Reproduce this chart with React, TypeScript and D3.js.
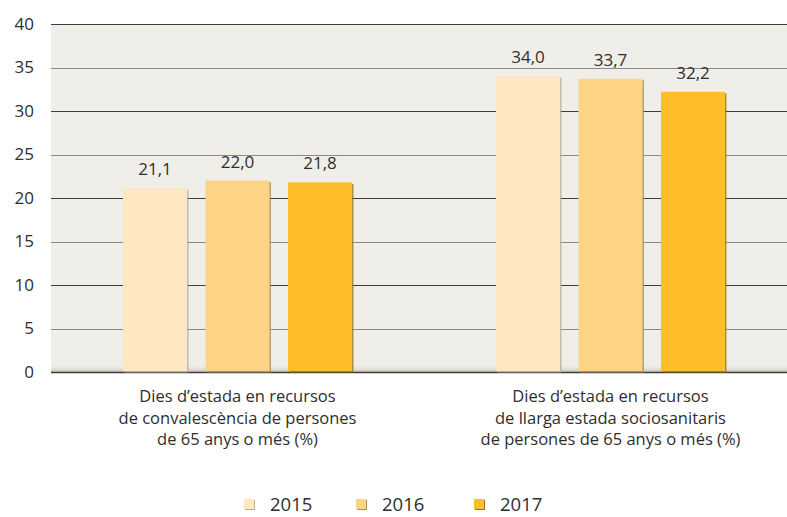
import React, { useEffect, useRef } from "react"
import * as d3 from "d3"

const categories = ["convalescencia", "llarga"]
const categoryLabels = [
  ["Dies d\u2019estada en recursos", "de convalesc\u00e8ncia de persones", "de 65 anys o m\u00e9s (%)"],
  ["Dies d\u2019estada en recursos", "de llarga estada sociosanitaris", "de persones de 65 anys o m\u00e9s (%)"],
]
const years = ["2015", "2016", "2017"]
const values2015 = [21.1, 34.0]
const values2016 = [22.0, 33.7]
const values2017 = [21.8, 32.2]
const colors = ["#fde8c2", "#fdd385", "#febe2b"]
const edgeColors = ["#b9ad98", "#a78e5a", "#9a7415"]
const yTicks = [0, 5, 10, 15, 20, 25, 30, 35, 40]

const W = 787
const H = 517
const FONT = "'Open Sans', 'Noto Sans', sans-serif"

export default function App() {
  const ref = useRef<SVGSVGElement>(null)

  useEffect(() => {
    const svg = d3.select(ref.current)
    svg.selectAll("*").remove()

    const left = 51
    const top = 24
    const bottom = 372
    const series = [values2015, values2016, values2017]

    const y = d3.scaleLinear().domain([0, 40]).range([bottom, top])
    const x0 = d3.scaleBand().domain(categories).range([left, 797])
    const x1 = d3
      .scaleBand()
      .domain(years)
      .range([0, x0.bandwidth()])
      .paddingInner(0.224)
      .paddingOuter(0.873)

    const defs = svg.append("defs")
    const shade = defs
      .append("linearGradient")
      .attr("id", "bottomShade")
      .attr("x1", "0%").attr("y1", "0%").attr("x2", "0%").attr("y2", "100%")
    shade.append("stop").attr("offset", "0%").style("stop-color", "#efeee8").style("stop-opacity", 0)
    shade.append("stop").attr("offset", "100%").style("stop-color", "#c9c6b8").style("stop-opacity", 1)

    // plot background
    svg.append("rect")
      .attr("x", left).attr("y", top)
      .attr("width", W - left).attr("height", bottom - top)
      .attr("fill", "#efeee8")
    svg.append("rect")
      .attr("x", left).attr("y", bottom - 8)
      .attr("width", W - left).attr("height", 8)
      .attr("fill", "url(#bottomShade)")

    // grid lines
    svg.selectAll("line.grid")
      .data(yTicks)
      .enter()
      .append("line")
      .attr("class", "grid")
      .attr("x1", left).attr("x2", W)
      .attr("y1", d => Math.round(y(d)) + 0.5)
      .attr("y2", d => Math.round(y(d)) + 0.5)
      .attr("stroke", d => (d % 10 === 0 ? "#3c3c3c" : "#8a8a88"))
      .attr("stroke-width", d => (d === 0 ? 1.5 : 1))

    // y tick labels
    svg.selectAll("text.ytick")
      .data(yTicks)
      .enter()
      .append("text")
      .attr("class", "ytick")
      .attr("x", 34)
      .attr("y", d => y(d))
      .attr("dy", "0.35em")
      .attr("text-anchor", "end")
      .attr("font-family", FONT)
      .attr("font-size", 17)
      .attr("fill", "#2e2e2e")
      .text(d => d)

    // bars
    const groups = svg.selectAll("g.group")
      .data(categories)
      .enter()
      .append("g")
      .attr("class", "group")
      .attr("transform", d => `translate(${x0(d)},0)`)

    years.forEach((yr, si) => {
      const bx = x1(yr)!
      const bw = x1.bandwidth()
      groups.append("rect")
        .attr("x", bx + 1.5)
        .attr("y", (_, ci) => y(series[si][ci]) + 1.5)
        .attr("width", bw)
        .attr("height", (_, ci) => bottom - y(series[si][ci]) - 1)
        .attr("fill", edgeColors[si])
        .attr("opacity", 0.8)
      groups.append("rect")
        .attr("x", bx)
        .attr("y", (_, ci) => y(series[si][ci]))
        .attr("width", bw)
        .attr("height", (_, ci) => bottom - y(series[si][ci]) - 1)
        .attr("fill", colors[si])
      groups.append("text")
        .attr("x", bx + bw / 2)
        .attr("y", (_, ci) => y(series[si][ci]) - 13)
        .attr("text-anchor", "middle")
        .attr("font-family", FONT)
        .attr("font-size", 17)
        .attr("fill", "#2e2e2e")
        .text((_, ci) => d3.format(".1f")(series[si][ci]).replace(".", ","))
    })

    // category labels
    groups.append("text")
      .attr("text-anchor", "middle")
      .attr("font-family", FONT)
      .attr("font-size", 16.5)
      .attr("fill", "#2e2e2e")
      .each(function (_, ci) {
        const t = d3.select(this)
        categoryLabels[ci].forEach((line, li) => {
          t.append("tspan")
            .attr("x", x1(years[1])! + x1.bandwidth() / 2)
            .attr("y", 402 + li * 21.5)
            .text(line)
        })
      })

    // legend
    const legendX = [244, 356, 474]
    const legend = svg.selectAll("g.legend")
      .data(years)
      .enter()
      .append("g")
      .attr("class", "legend")
      .attr("transform", (_, i) => `translate(${legendX[i]},499)`)
    legend.append("rect")
      .attr("x", 1).attr("y", 1).attr("width", 10).attr("height", 10)
      .attr("fill", (_, i) => edgeColors[i])
    legend.append("rect")
      .attr("width", 10).attr("height", 10)
      .attr("fill", (_, i) => colors[i])
    legend.append("text")
      .attr("x", 26)
      .attr("y", 12)
      .attr("font-family", FONT)
      .attr("font-size", 18.5)
      .attr("fill", "#2e2e2e")
      .text(d => d)
  }, [])

  return (
    <svg
      ref={ref}
      width={W}
      height={H}
      style={{ position: "absolute", left: 0, top: 0, background: "#fff" }}
    />
  )
}
